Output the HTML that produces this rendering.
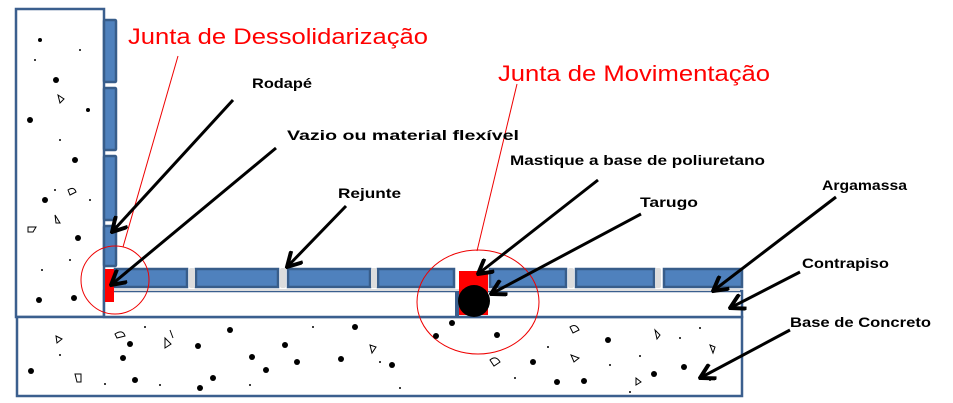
<!DOCTYPE html>
<html><head><style>body{margin:0;background:#fff}svg{display:block}text{font-family:"Liberation Sans",sans-serif}</style></head><body>
<svg width="953" height="403" viewBox="0 0 953 403" xmlns="http://www.w3.org/2000/svg">
<defs>
<marker id="b" viewBox="0 0 10 10" markerWidth="18" markerHeight="18" refX="9" refY="5" orient="auto" markerUnits="userSpaceOnUse"><path d="M1,0.5 L9,5 L1,9.5" fill="none" stroke="#000" stroke-width="2.2"/></marker></defs>
<rect x="16" y="9" width="88" height="308" fill="#fff" stroke="#3b5f8e" stroke-width="2.5"/>
<rect x="17" y="317" width="725" height="79" fill="#fff" stroke="#3b5f8e" stroke-width="2.5"/>
<rect x="104" y="291" width="638" height="26" fill="#fff" stroke="#3b5f8e" stroke-width="2.5"/>
<line x1="106" y1="290" x2="740" y2="290" stroke="#ddd" stroke-width="2"/>
<g fill="#4f81bd" stroke="#385d8a" stroke-width="2.5">
<rect x="104" y="20" width="12" height="62" rx="1"/>
<rect x="104" y="88" width="12" height="62" rx="1"/>
<rect x="104" y="156" width="12" height="64" rx="1"/>
<rect x="104" y="226" width="12" height="40" rx="1"/>
<rect x="115" y="269" width="72" height="18"/>
<rect x="196" y="269" width="82" height="18"/>
<rect x="288" y="269" width="82" height="18"/>
<rect x="378" y="269" width="76" height="18"/>
<rect x="490" y="269" width="76" height="18"/>
<rect x="576" y="269" width="78" height="18"/>
<rect x="664" y="269" width="78" height="18"/>
</g>
<g fill="#ddd"><rect x="189" y="268" width="6" height="20" rx="2"/><rect x="280" y="268" width="6" height="20" rx="2"/><rect x="371" y="268" width="6" height="20" rx="2"/><rect x="568" y="268" width="6" height="20" rx="2"/><rect x="655" y="268" width="6" height="20" rx="2"/></g>
<rect x="455" y="291" width="4" height="26" fill="#3b5f8e"/>
<rect x="105" y="269" width="9" height="33" fill="#f00"/>
<rect x="459" y="271" width="29" height="44" fill="#f00"/>
<circle cx="474" cy="301" r="16" fill="#000"/>
<ellipse cx="115" cy="280" rx="34" ry="34" fill="none" stroke="#e00" stroke-width="1"/>
<ellipse cx="478" cy="302" rx="61" ry="52" fill="none" stroke="#e00" stroke-width="1"/>
<line x1="178" y1="56" x2="123" y2="247" stroke="#e00" stroke-width="1"/>
<line x1="517" y1="84" x2="477" y2="251" stroke="#e00" stroke-width="1"/>
<g fill="#000">
<circle cx="40" cy="40" r="2"/><circle cx="56" cy="80" r="3"/><circle cx="30" cy="120" r="3"/><circle cx="75" cy="160" r="3"/><circle cx="45" cy="200" r="3"/><circle cx="78" cy="238" r="3"/><circle cx="39" cy="300" r="3"/><circle cx="74" cy="298" r="3"/><circle cx="88" cy="110" r="2"/><circle cx="60" cy="140" r="1"/><circle cx="35" cy="60" r="1"/><circle cx="80" cy="50" r="1"/><circle cx="55" cy="190" r="1"/><circle cx="70" cy="260" r="1"/><circle cx="42" cy="270" r="1"/><circle cx="90" cy="200" r="1"/>
<circle cx="130" cy="344" r="3"/><circle cx="230" cy="330" r="3"/><circle cx="198" cy="346" r="3"/><circle cx="135" cy="380" r="3"/><circle cx="200" cy="388" r="3"/><circle cx="297" cy="362" r="3"/><circle cx="285" cy="345" r="3"/><circle cx="355" cy="327" r="3"/><circle cx="341" cy="359" r="3"/><circle cx="266" cy="370" r="3"/><circle cx="392" cy="365" r="3"/><circle cx="452" cy="323" r="3"/><circle cx="436" cy="336" r="3"/><circle cx="497" cy="335" r="3"/><circle cx="533" cy="362" r="3"/><circle cx="608" cy="340" r="3"/><circle cx="584" cy="381" r="3"/><circle cx="654" cy="374" r="3"/><circle cx="684" cy="367" r="3"/><circle cx="557" cy="382" r="3"/><circle cx="252" cy="357" r="3"/><circle cx="213" cy="378" r="3"/><circle cx="31" cy="371" r="3"/><circle cx="123" cy="358" r="3"/>
<circle cx="60" cy="355" r="1"/><circle cx="145" cy="327" r="1"/><circle cx="105" cy="384" r="1"/><circle cx="160" cy="385" r="1"/><circle cx="250" cy="385" r="1"/><circle cx="313" cy="327" r="1"/><circle cx="380" cy="362" r="1"/><circle cx="400" cy="388" r="1"/><circle cx="515" cy="378" r="1"/><circle cx="548" cy="347" r="1"/><circle cx="610" cy="365" r="1"/><circle cx="640" cy="356" r="1"/><circle cx="680" cy="338" r="1"/><circle cx="700" cy="328" r="1"/><circle cx="630" cy="392" r="1"/><circle cx="710" cy="380" r="1"/>
</g>
<g fill="none" stroke="#000" stroke-width="1">
<path d="M28 227h8l-3 5h-5z"/><path d="M55 215l5 8h-4z"/><path d="M68 190q6-4 8 2l-6 3z"/><path d="M58 95l6 4-4 4z"/><path d="M115 334q8-5 10 2l-8 2z"/><path d="M56 336l6 3-5 4z"/><path d="M165 338l6 6-6 4z"/><path d="M75 374h6v8h-4z"/><path d="M170 330l3 8"/><path d="M370 345l6 2-4 6z"/><path d="M490 360q6-5 10 2l-6 4z"/><path d="M570 327q6-4 9 3l-6 3z"/><path d="M571 355l8 3-5 4z"/><path d="M655 330l5 5-3 4z"/><path d="M710 345l5 2-2 6z"/><path d="M636 378l5 4-5 3z"/>
</g>
<g stroke="#000" stroke-width="3" marker-end="url(#b)">
<line x1="233" y1="100" x2="112" y2="232"/>
<line x1="276" y1="148" x2="111" y2="285"/>
<line x1="346" y1="206" x2="287" y2="267"/>
<line x1="598" y1="180" x2="478" y2="274"/>
<line x1="641" y1="214" x2="491" y2="294"/>
<line x1="836" y1="197" x2="713" y2="291"/>
<line x1="800" y1="272" x2="730" y2="308"/>
<line x1="790" y1="330" x2="700" y2="378"/>
</g>
<text x="128" y="44" font-size="22" fill="#f00" textLength="300" lengthAdjust="spacingAndGlyphs">Junta de Dessolidarização</text>
<text x="498" y="81" font-size="22" fill="#f00" textLength="272" lengthAdjust="spacingAndGlyphs">Junta de Movimentação</text>
<g font-size="14" font-weight="bold" fill="#000">
<text x="252" y="88" textLength="60" lengthAdjust="spacingAndGlyphs">Rodapé</text>
<text x="287" y="140" textLength="232" lengthAdjust="spacingAndGlyphs">Vazio ou material flexível</text>
<text x="338" y="198" textLength="63" lengthAdjust="spacingAndGlyphs">Rejunte</text>
<text x="510" y="165" textLength="255" lengthAdjust="spacingAndGlyphs">Mastique a base de poliuretano</text>
<text x="640" y="207" textLength="58" lengthAdjust="spacingAndGlyphs">Tarugo</text>
<text x="822" y="190" textLength="85" lengthAdjust="spacingAndGlyphs">Argamassa</text>
<text x="802" y="268" textLength="87" lengthAdjust="spacingAndGlyphs">Contrapiso</text>
<text x="790" y="327" textLength="141" lengthAdjust="spacingAndGlyphs">Base de Concreto</text>
</g>
</svg>
</body></html>
